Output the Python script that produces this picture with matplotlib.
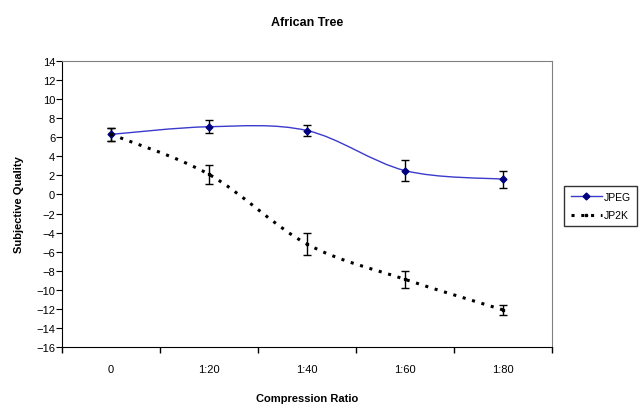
import matplotlib.pyplot as plt
from matplotlib.path import Path
from matplotlib.patches import PathPatch
from matplotlib.lines import Line2D

plt.rcParams['font.family'] = ['Liberation Sans', 'DejaVu Sans']

ratios = ['0', '1:20', '1:40', '1:60', '1:80']
jpeg = [6.3, 7.1, 6.7, 2.5, 1.6]
jpeg_err = [0.65, 0.7, 0.6, 1.1, 0.9]
jp2k = [6.3, 2.1, -5.2, -8.9, -12.1]
jp2k_err = [0.65, 1.0, 1.15, 0.9, 0.55]

x = list(range(len(ratios)))


def smooth_path(xs, ys):
    # excel-like smoothed line: cubic bezier through the points
    n = len(xs)
    verts = [(xs[0], ys[0])]
    codes = [Path.MOVETO]
    for i in range(n - 1):
        p0 = (xs[max(i - 1, 0)], ys[max(i - 1, 0)])
        p1 = (xs[i], ys[i])
        p2 = (xs[i + 1], ys[i + 1])
        p3 = (xs[min(i + 2, n - 1)], ys[min(i + 2, n - 1)])
        c1 = (p1[0] + (p2[0] - p0[0]) / 6, p1[1] + (p2[1] - p0[1]) / 6)
        c2 = (p2[0] - (p3[0] - p1[0]) / 6, p2[1] - (p3[1] - p1[1]) / 6)
        verts += [c1, c2, p2]
        codes += [Path.CURVE4] * 3
    return Path(verts, codes)


fig = plt.figure(figsize=(6.4, 4.1), dpi=100)
ax = fig.add_axes([0.097, 0.151, 0.7655, 0.698])

ax.add_patch(PathPatch(smooth_path(x, jpeg), fill=False, edgecolor='#3a3acc', lw=1.0))
ax.add_patch(PathPatch(smooth_path(x, jp2k), fill=False, edgecolor='black', lw=2.2,
                       linestyle=(0, (1, 2.2))))

ax.errorbar(x, jpeg, yerr=jpeg_err, fmt='none', ecolor='black', elinewidth=1, capsize=3)
ax.errorbar(x, jp2k, yerr=jp2k_err, fmt='none', ecolor='black', elinewidth=1, capsize=3)
ax.plot(x, jpeg, linestyle='none', marker='D', markersize=3.5, color='#000080')
ax.plot(x, jp2k, linestyle='none', marker='s', markersize=2, color='black')

ax.set_xlim(-0.5, 4.5)
ax.set_ylim(-16, 14)
ax.set_yticks(range(-16, 15, 2))
ax.set_xticks(x)
ax.set_xticklabels(ratios)
ax.set_xticks([-0.5, 0.5, 1.5, 2.5, 3.5, 4.5], minor=True)
ax.tick_params(axis='x', which='major', length=0, pad=12, labelsize=8)
ax.tick_params(axis='x', which='minor', length=4, direction='out', width=1)
ax.tick_params(axis='y', length=4, direction='out', labelsize=8, pad=1)

for s in ['top', 'right']:
    ax.spines[s].set_color('#808080')

ax.set_title('African Tree', fontsize=9, fontweight='bold', pad=26)
ax.set_xlabel('Compression Ratio', fontsize=8, fontweight='bold', labelpad=14)
ax.set_ylabel('Subjective Quality', fontsize=8, fontweight='bold', labelpad=9)

handles = [
    Line2D([], [], color='#3a3acc', lw=1, marker='D', markersize=3.5,
           markerfacecolor='#000080', markeredgecolor='#000080'),
    Line2D([], [], color='black', lw=2.2, linestyle=(0, (1, 2.2)), marker='s',
           markersize=2),
]
leg = fig.legend(handles, ['JPEG', 'JP2K'], loc='center left',
                 bbox_to_anchor=(0.882, 0.495), fontsize=7.5, frameon=True,
                 fancybox=False, edgecolor='black', handlelength=3.0,
                 borderaxespad=0, handletextpad=0.2, borderpad=0.6,
                 labelspacing=0.8)
leg.get_frame().set_linewidth(1)

plt.savefig('out.png', dpi=100)
